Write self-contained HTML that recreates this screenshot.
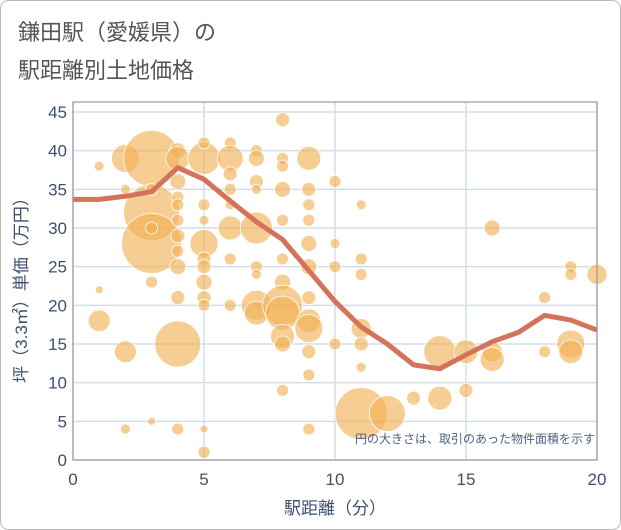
<!DOCTYPE html>
<html><head><meta charset="utf-8"><style>
body{margin:0;background:#fff;}
svg{display:block;font-family:"Liberation Sans","Noto Sans CJK JP",sans-serif;}
</style></head><body>
<svg width="621" height="530" viewBox="0 0 621 530">
<rect x="0.5" y="0.5" width="620" height="529" rx="8" fill="#fff" stroke="#bbb"/>
<text x="18" y="40" font-size="22" fill="#555">鎌田駅（愛媛県）の</text>
<text x="18" y="78" font-size="22" fill="#555">駅距離別土地価格</text>
<g id="grid"></g>
<g id="bubbles"></g>
<g id="line"></g>
<g id="axes"></g>
<text x="595" y="443" font-size="12" fill="#506080" text-anchor="end">円の大きさは、取引のあった物件面積を示す</text>
<text x="335" y="514" font-size="17" fill="#3c5070" text-anchor="middle">駅距離（分）</text>
<text transform="translate(27,286) rotate(-90)" font-size="17" fill="#3c5070" text-anchor="middle">坪（3.3㎡）単価（万円）</text>
</svg>
<script>
const xTicks=[0,5,10,15,20];
const yTicks=[0,5,10,15,20,25,30,35,40,45];
const lineX=[0,1,2,3,4,5,6,7,8,9,10,11,12,13,14,15,16,17,18,19,20];
const lineY=[33.7,33.7,34.1,34.7,37.8,36.3,33.5,30.8,28.5,24.5,20.5,17.2,15,12.3,11.8,13.6,15.3,16.5,18.7,18.1,16.8];
const bx=[1,1,1,2,2,2,2,3,3,3,3,3,3,3,4,4,4,4,4,4,4,4,4,4,4,4,5,5,5,5,5,5,5,5,5,5,5,5,6,6,6,6,6,6,6,6,7,7,7,7,7,7,7,7,7,8,8,8,8,8,8,8,8,8,8,8,8,9,9,9,9,9,9,9,9,9,9,9,9,10,10,10,10,11,11,11,11,11,11,11,12,13,14,14,15,15,16,16,16,18,18,19,19,19,19,20];
const by=[38,22,18,39,35,14,4,39,32,28,35,23,5,30,40,39,34,33,31,29,27,25,21,15,4,36,39,41,33,31,28,26,25,23,21,20,4,1,41,39,37,35,33,30,26,20,40,39,36,35,30,25,24,20,19,44,39,38,35,31,26,23,20,19,16,15,9,39,35,33,31,28,25,21,18,17,14,11,4,36,28,25,15,33,26,24,17,15,12,6,6,8,14,8,14,9,30,14,13,21,14,25,24,15,14,24];
const bs=[5,4,11,14,5,11,5,28,28,30,6,6,4,6,8,12,6,6,6,7,6,8,7,23,6,8,16,6,6,5,14,7,7,8,7,6,4,6,6,13,7,6,5,12,6,6,6,8,7,5,16,6,5,15,12,7,6,6,8,6,6,8,20,17,12,8,6,12,7,6,6,8,8,7,12,14,7,6,6,6,5,6,6,5,6,6,10,7,5,26,18,7,16,12,12,7,8,10,12,6,6,6,6,14,12,10];
const X0=73,X1=597,Y0=460,Y1=112;
const sx=v=>X0+(v-0)/20*(X1-X0);
const sy=v=>Y0-(v-0)/45*(Y0-Y1);
const NS='http://www.w3.org/2000/svg';
function mk(t,a,p){const e=document.createElementNS(NS,t);for(const k in a)e.setAttribute(k,a[k]);p.appendChild(e);return e;}
const grid=document.getElementById('grid');
mk('rect',{x:X0,y:102,width:X1-X0,height:Y0-102,fill:'#fff',stroke:'none'},grid);
yTicks.forEach(v=>{const l=mk('line',{x1:X0,x2:X1,y1:sy(v),y2:sy(v),stroke:'#d3dde9','stroke-width':1.5},grid);

});
xTicks.forEach(v=>{const l=mk('line',{x1:sx(v),x2:sx(v),y1:102,y2:Y0,stroke:'#d3dde9','stroke-width':1.5},grid);

});
const bg=document.getElementById('bubbles');
bx.forEach((v,i)=>{const c=mk('circle',{cx:sx(v),cy:sy(by[i]),r:bs[i],fill:'rgba(240,176,80,0.62)',stroke:'#fff','stroke-width':0.8},bg);

});
const lg=document.getElementById('line');
const p=mk('polyline',{points:lineX.map((v,i)=>sx(v)+','+sy(lineY[i])).join(' '),fill:'none',stroke:'#d4735b','stroke-width':5,'stroke-linejoin':'round'},lg);


const ax=document.getElementById('axes');
const fr=mk('rect',{x:X0,y:102,width:X1-X0,height:Y0-102,fill:'none',stroke:'#999','stroke-width':1.2},ax);


yTicks.forEach(v=>{const t=mk('text',{x:X0-6,y:sy(v)+6,'font-size':17,fill:'#3c5070','text-anchor':'end'},ax);t.textContent=v;

});
xTicks.forEach(v=>{const t=mk('text',{x:sx(v),y:Y0+25,'font-size':17,fill:'#3c5070','text-anchor':'middle'},ax);t.textContent=v;

});
</script>
</body></html>
